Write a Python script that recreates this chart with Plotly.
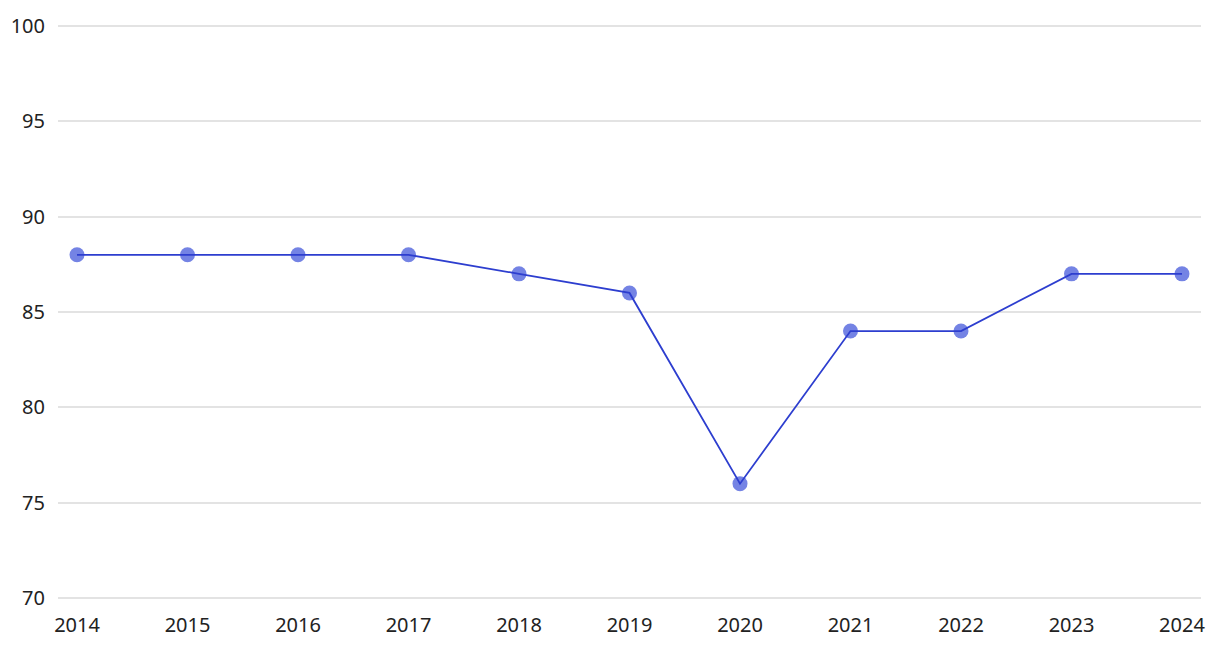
import plotly.graph_objects as go

years = [2014, 2015, 2016, 2017, 2018, 2019, 2020, 2021, 2022, 2023, 2024]
values = [88, 88, 88, 88, 87, 86, 76, 84, 84, 87, 87]
y_ticks = [70, 75, 80, 85, 90, 95, 100]

fig = go.Figure()
fig.add_trace(go.Scatter(
    x=years, y=values, mode="markers",
    marker=dict(size=15, color="#7483e4", line=dict(width=0)),
    hoverinfo="skip", showlegend=False,
))
fig.add_trace(go.Scatter(
    x=years, y=values, mode="lines",
    line=dict(color="#2d3ecf", width=1.8),
    showlegend=False,
))

fig.update_layout(
    width=1220, height=650,
    margin=dict(l=50, r=27, t=16, b=58),
    plot_bgcolor="white", paper_bgcolor="white",
    font=dict(family="Noto Sans", size=20, color="#222222"),
)
fig.update_xaxes(
    range=[2013.828, 2024.172], tickmode="array", tickvals=years,
    ticktext=[str(y) for y in years], showgrid=False, zeroline=False,
    showline=False, ticks="", ticklabelstandoff=11, automargin=False,
)
fig.update_yaxes(
    range=[69.9, 100.1], tickmode="array", tickvals=y_ticks,
    showgrid=True, gridcolor="#e3e3e3", gridwidth=1.5, zeroline=False,
    showline=False, ticks="", ticklabelstandoff=12, automargin=False,
)

fig.write_html("out.html")
